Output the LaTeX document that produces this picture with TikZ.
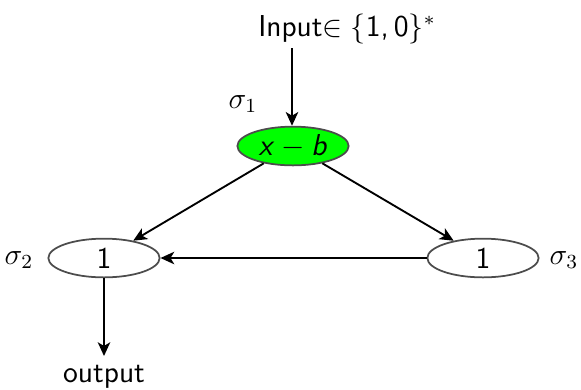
\documentclass[tikz,border=0pt]{standalone}
\usetikzlibrary{arrows.meta,shapes.geometric}
\begin{document}
\begin{tikzpicture}[x=0.4pt,y=-0.4pt,
  every node/.style={font=\fontsize{12.1}{14}\selectfont\sffamily},
  cell/.style={ellipse,draw=black!70,line width=0.7pt,minimum width=44.5pt,minimum height=15.5pt,inner sep=0pt},
  arr/.style={-{Stealth[length=5.5pt,width=5pt,inset=1.5pt]},line width=0.75pt,black}]
\useasboundingbox (0,0) rectangle (581,389);
\node (in) at (347,29) {Input$\in\{$1,\,0$\}^*$};
\node[cell,fill=green] (g) at (293,146) {\textit{x}$\:-\:$\textit{b}};
\node[cell] (s2) at (104,258) {1};
\node[cell] (s3) at (483,258) {1};
\node (l1) at (243,104) {$\sigma_1$};
\node (l2) at (19,260) {$\sigma_2$};
\node (l3) at (564,260) {$\sigma_3$};
\node (out) at (104,377) {output};
\coordinate (ins) at (292,48);
\coordinate (outs) at (104,356);
\draw[arr] (ins) -- (g.north -| ins);
\draw[arr] (g) -- (s2);
\draw[arr] (g) -- (s3);
\draw[arr] (s3) -- (s2);
\draw[arr] (s2) -- (outs);
\end{tikzpicture}
\end{document}
